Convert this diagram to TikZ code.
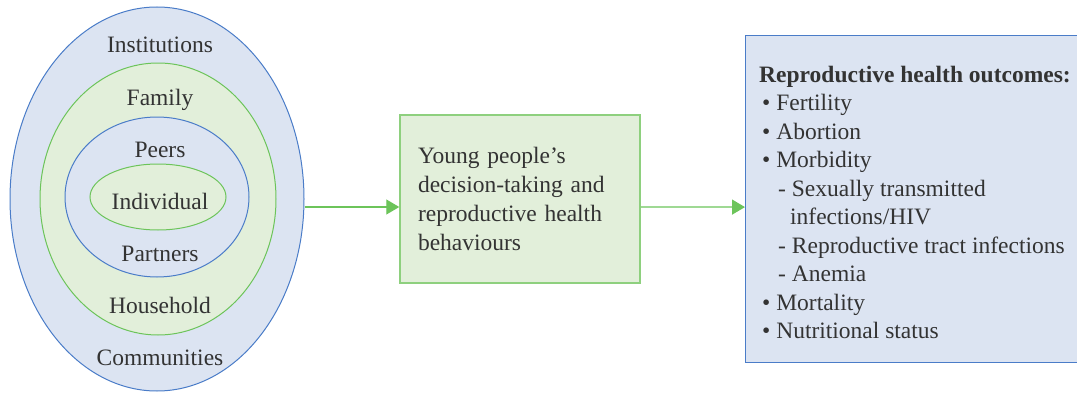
\documentclass[tikz,border=0pt]{standalone}
\usepackage{fontspec}
\setmainfont{Liberation Serif}
\usetikzlibrary{arrows.meta,shapes.geometric}
\definecolor{ringblue}{HTML}{4A7CC8}
\definecolor{fillblue}{HTML}{DCE4F2}
\definecolor{ringgreen}{HTML}{6CC45A}
\definecolor{fillgreen}{HTML}{E2EFDA}
\definecolor{boxgreen}{HTML}{8ED07E}
\definecolor{arrgreen}{HTML}{6CC45A}
\definecolor{txt}{HTML}{333333}
\def\rowgap{28.5}

\begin{document}
\begin{tikzpicture}
    [x=1pt,y=1pt,
      txtfont/.style={font=\fontsize{23.5}{28.7}\selectfont,text=txt},
      level/.style={txtfont,anchor=base},
      ring/.style={ellipse,inner sep=0pt,line width=1pt},
      bluering/.style={ring,draw=ringblue,fill=fillblue},
      greenring/.style={ring,draw=ringgreen,fill=fillgreen},
      item/.style={txtfont,anchor=base west,inner sep=0pt},
      flow/.style={draw=arrgreen,line width=1.3pt,-{Triangle[length=13pt,width=15pt]}}]
    \useasboundingbox (0,0) rectangle (1077,392);

    \node[bluering,minimum width=294pt,minimum height=384pt] (comm) at (157,193) {};
    \node[greenring,minimum width=236pt,minimum height=272pt] (house) at (158,193) {};
    \node[bluering,minimum width=184pt,minimum height=160pt] (peer) at (157,195) {};
    \node[greenring,minimum width=136pt,minimum height=66pt] (indiv) at (158,195) {};

    \foreach \lbl [count=\i from 0] in {Institutions,Family,Peers,Individual,Partners,Household,Communities}
      \node[level] (lvl\i) at (160,339-52*\i) {\lbl};

    \node[txtfont,draw=boxgreen,fill=fillgreen,line width=1.5pt,minimum width=240pt,minimum height=168pt,
      text width=204pt,align=left] (mid) at (520,193)
      {Young people’s\\decision-taking and\\reproductive health\\behaviours};

    \node[draw=ringblue,fill=fillblue,line width=1.2pt,anchor=north west,
      minimum width=380pt,minimum height=327pt] (out) at (745,357) {};
    \foreach \xo/\txt [count=\k from 0] in {759/{\textbf{Reproductive health outcomes:}},
        762/{\textbullet\ Fertility},762/{\textbullet\ Abortion},762/{\textbullet\ Morbidity},
        778/{- Sexually transmitted},790/{infections/HIV},778/{- Reproductive tract infections},
        778/{- Anemia},762/{\textbullet\ Mortality},762/{\textbullet\ Nutritional status}}
      \node[item] (res\k) at (\xo,310-\rowgap*\k) {\txt};

    \draw[flow] ([yshift=-8pt]comm.east) -- ([yshift=-8pt]mid.west);
    \draw[flow] ([yshift=-8pt]mid.east) -- ([yshift=-8pt]out.west);
\end{tikzpicture}
\end{document}
